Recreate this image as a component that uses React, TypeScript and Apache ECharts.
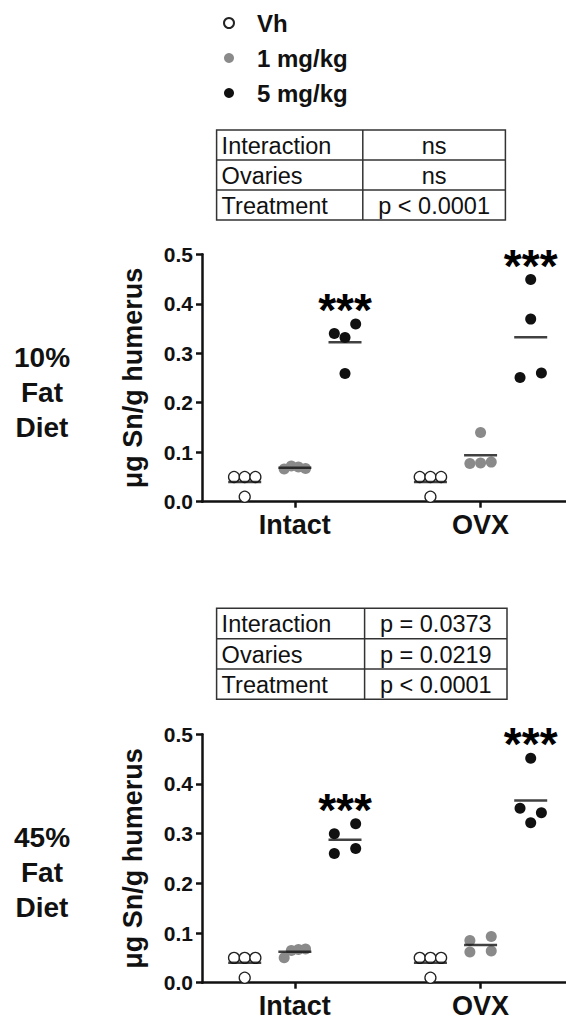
import React, { useEffect, useRef } from 'react';
import * as echarts from 'echarts';

// ---------- data ----------
const categories = ['Intact', 'OVX'];
const doseNames = ['Vh', '1 mg/kg', '5 mg/kg'];

// values per category: [Intact, OVX]
const fat10Vh = [[0.05, 0.05, 0.05, 0.01], [0.05, 0.05, 0.05, 0.01]];
const fat10Low = [[0.066, 0.072, 0.07, 0.067], [0.14, 0.077, 0.078, 0.08]];
const fat10High = [[0.34, 0.359, 0.332, 0.259], [0.449, 0.369, 0.251, 0.26]];
const fat10Sig = ['***', '***']; // over 5 mg/kg group

const fat45Vh = [[0.05, 0.05, 0.05, 0.01], [0.05, 0.05, 0.05, 0.01]];
const fat45Low = [[0.05, 0.065, 0.067, 0.068], [0.062, 0.064, 0.085, 0.093]];
const fat45High = [[0.3, 0.32, 0.26, 0.27], [0.452, 0.351, 0.342, 0.322]];
const fat45Sig = ['***', '***'];

const statTerms = ['Interaction', 'Ovaries', 'Treatment'];
const fat10P = ['ns', 'ns', 'p < 0.0001'];
const fat45P = ['p = 0.0373', 'p = 0.0219', 'p < 0.0001'];

const panelLabels = ['10%\nFat\nDiet', '45%\nFat\nDiet'];
const yAxisTitle = 'μg Sn/g humerus';

// ---------- styling / layout ----------
const FONT = '"Liberation Sans", Arial, Helvetica, sans-serif';
const INK = '#111111';
const doseColors = ['#ffffff', '#8a8a8a', '#111111'];
const DOSE_OFFSET = 0.27;
const JIT = 0.0575;
const ROW_THR = 0.021;
const SIG_GAP = 0.046;

const panels = [
  { groups: [fat10Vh, fat10Low, fat10High], sig: fat10Sig, p: fat10P, gridTop: 254.3, gridH: 247.4,
    table: { x: 216.6, y: 130, w: 288.8, h: 90, div: 362.8 }, labelY: 392 },
  { groups: [fat45Vh, fat45Low, fat45High], sig: fat45Sig, p: fat45P, gridTop: 734.3, gridH: 248.4,
    table: { x: 216.6, y: 608.3, w: 290.4, h: 91, div: 364.6 }, labelY: 872 },
];

function swarm(vals: number[]): number[] {
  const order = vals.map((_, i) => i).sort((a, b) => vals[b] - vals[a]);
  const offs = new Array(vals.length).fill(0);
  let row: number[] = [];
  const flush = () => {
    const r = [...row].sort((a, b) => a - b);
    const n = r.length;
    r.forEach((k, i) => { offs[k] = n === 1 ? 0 : -JIT + (i * 2 * JIT) / (n - 1); });
    row = [];
  };
  order.forEach((k) => {
    if (row.length && vals[row[0]] - vals[k] >= ROW_THR) flush();
    row.push(k);
  });
  if (row.length) flush();
  return offs;
}

const mean = (a: number[]) => a.reduce((s, v) => s + v, 0) / a.length;

function buildOption() {
  const grids: any[] = [];
  const xAxes: any[] = [];
  const yAxes: any[] = [];
  const series: any[] = [];
  const graphics: any[] = [];

  panels.forEach((pn, p) => {
    grids.push({ left: 202, top: pn.gridTop, width: 364, height: pn.gridH, containLabel: false });
    xAxes.push({
      type: 'value', gridIndex: p, min: 0.5, max: 2.46,
      axisLine: { show: true, onZero: false, lineStyle: { color: INK, width: 2.5 } },
      axisTick: { show: true, customValues: categories.map((_, i) => i + 1), length: 6, lineStyle: { color: INK, width: 2.5 } },
      axisLabel: {
        show: true, customValues: categories.map((_, i) => i + 1), margin: 10,
        formatter: (v: number) => categories[Math.round(v) - 1] ?? '',
        fontSize: 27, fontWeight: 'bold', color: INK, fontFamily: FONT,
      },
      splitLine: { show: false },
    });
    yAxes.push({
      type: 'value', gridIndex: p, min: 0, max: 0.5, interval: 0.1,
      name: yAxisTitle, nameLocation: 'middle', nameGap: 56, nameRotate: 90,
      nameTextStyle: { fontSize: 27, fontWeight: 'bold', color: INK, fontFamily: FONT },
      axisLine: { show: true, lineStyle: { color: INK, width: 2.5 } },
      axisTick: { show: true, length: 6, lineStyle: { color: INK, width: 2.5 } },
      axisLabel: { margin: 9, formatter: (v: number) => v.toFixed(1), fontSize: 21, fontWeight: 'bold', color: INK, fontFamily: FONT },
      splitLine: { show: false },
    });

    pn.groups.forEach((g, d) => {
      const data: any[] = [];
      categories.forEach((_, ci) => {
        const vals = g[ci];
        const o = swarm(vals);
        vals.forEach((v, i) => data.push([ci + 1 + (d - 1) * DOSE_OFFSET + o[i], v]));
      });
      series.push({
        type: 'scatter', name: doseNames[d], xAxisIndex: p, yAxisIndex: p,
        symbol: 'circle', symbolSize: 11, z: 3,
        itemStyle: { color: doseColors[d], borderColor: d === 0 ? '#222' : doseColors[d], borderWidth: d === 0 ? 1.3 : 0, opacity: 1 },
        data,
      });
    });

    const meanData: any[] = [];
    pn.groups.forEach((g, d) => categories.forEach((_, ci) => meanData.push([ci + 1 + (d - 1) * DOSE_OFFSET, mean(g[ci])])));
    series.push({
      type: 'scatter', name: 'mean' + p, xAxisIndex: p, yAxisIndex: p, silent: true, z: 5,
      symbol: 'rect', symbolSize: [33, 2.5], itemStyle: { color: INK }, data: meanData,
    });

    const sigData: any[] = [];
    categories.forEach((_, ci) => {
      if (pn.sig[ci]) sigData.push([ci + 1 + DOSE_OFFSET, Math.max(...pn.groups[2][ci]) + SIG_GAP, pn.sig[ci]]);
    });
    series.push({
      type: 'scatter', name: 'sig' + p, xAxisIndex: p, yAxisIndex: p, silent: true, z: 6, clip: false,
      symbolSize: 1, itemStyle: { color: 'rgba(0,0,0,0)' }, data: sigData,
      label: { show: true, position: 'inside', offset: [0, 9], formatter: (q: any) => q.value[2],
        fontSize: 46, fontWeight: 'bold', color: '#000', textBorderWidth: 0, opacity: 1, fontFamily: FONT },
    });

    // stats table
    const t = pn.table;
    const rowH = t.h / statTerms.length;
    const stroke = { stroke: '#333', lineWidth: 1.5 };
    graphics.push({ type: 'rect', shape: { x: t.x, y: t.y, width: t.w, height: t.h }, style: { fill: 'none', ...stroke } });
    graphics.push({ type: 'line', shape: { x1: t.div, y1: t.y, x2: t.div, y2: t.y + t.h }, style: stroke });
    statTerms.forEach((term, r) => {
      if (r > 0) graphics.push({ type: 'line', shape: { x1: t.x, y1: t.y + r * rowH, x2: t.x + t.w, y2: t.y + r * rowH }, style: stroke });
      const cy = t.y + r * rowH + rowH / 2 + 1;
      graphics.push({ type: 'text', x: t.x + 5, y: cy, style: { text: term, fontSize: 23.5, fontFamily: FONT, fill: INK, align: 'left', verticalAlign: 'middle' } });
      graphics.push({ type: 'text', x: (t.div + t.x + t.w) / 2, y: cy, style: { text: pn.p[r], fontSize: 23.5, fontFamily: FONT, fill: INK, align: 'center', verticalAlign: 'middle' } });
    });

    graphics.push({ type: 'text', x: 42, y: pn.labelY, style: { text: panelLabels[p], fontSize: 28, fontWeight: 'bold', lineHeight: 35, fontFamily: FONT, fill: INK, align: 'center', verticalAlign: 'middle' } });
  });

  return {
    animation: false,
    backgroundColor: '#ffffff',
    textStyle: { fontFamily: FONT },
    legend: {
      data: doseNames, orient: 'vertical', left: 218, top: 6, itemWidth: 10, itemHeight: 10, itemGap: 11,
      selectedMode: false,
      textStyle: { fontSize: 24, fontWeight: 'bold', color: INK, fontFamily: FONT, padding: [0, 0, 0, 18] },
    },
    grid: grids,
    xAxis: xAxes,
    yAxis: yAxes,
    series,
    graphic: graphics,
  };
}

export default function App() {
  const ref = useRef<HTMLDivElement>(null);
  useEffect(() => {
    if (!ref.current) return;
    const chart = echarts.init(ref.current, undefined, { renderer: 'svg' });
    chart.setOption(buildOption() as any);
    return () => chart.dispose();
  }, []);
  return <div ref={ref} style={{ position: 'absolute', left: 0, top: 0, width: 566, height: 1021, background: '#fff' }} />;
}
